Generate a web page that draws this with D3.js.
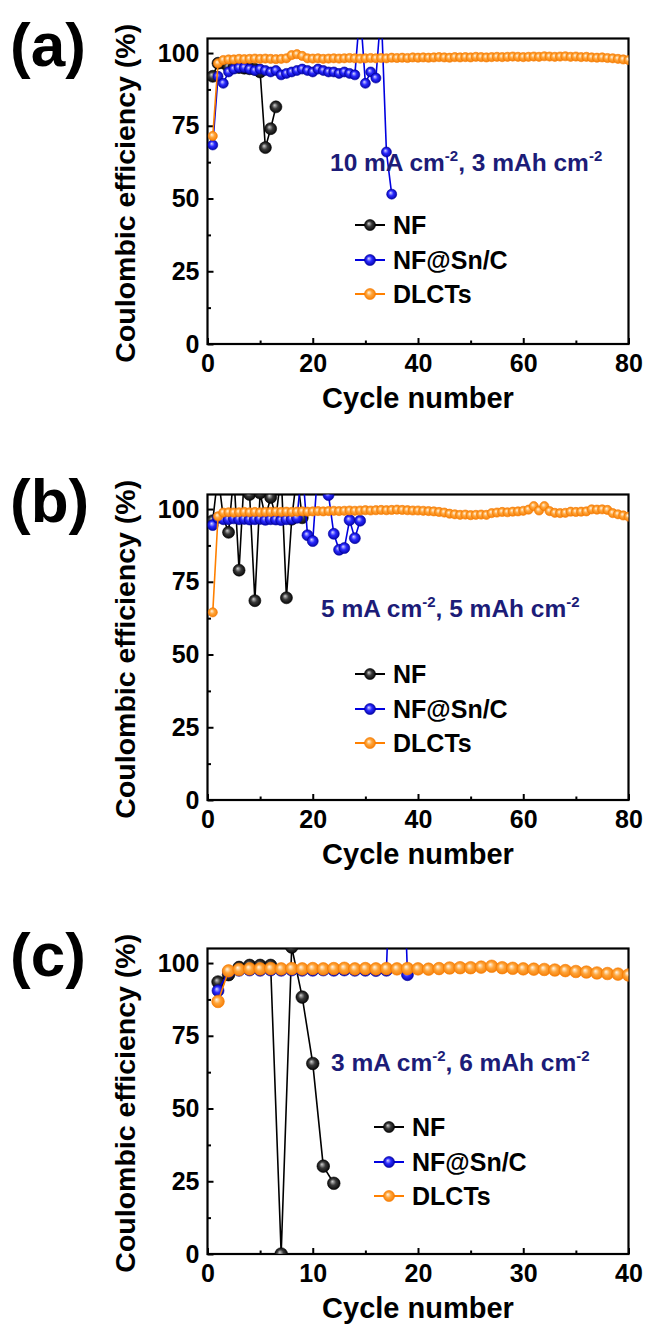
<!DOCTYPE html>
<html><head><meta charset="utf-8">
<script src="https://cdn.jsdelivr.net/npm/d3@7"></script>
<style>body{margin:0;background:#fff}svg{display:block}</style>
</head><body>
<svg id="c" width="649" height="1327"></svg>
<script>
// ---------- data (cycle = index + 1) ----------
const seriesNames = ["NF", "NF@Sn/C", "DLCTs"];
const yTickLabels = [0, 25, 50, 75, 100];

// Panel (a): 10 mA cm-2, 3 mAh cm-2
const nfA = [92.0, 96.5, 96.6, 95.2, 95.0, 95.0, 94.8, 94.6, 94.4, 93.5, 67.5, 74.0, 81.5];
const snA = [68.4, 92.0, 89.6, 93.5, 94.5, 95.0, 95.0, 94.5, 94.0, 94.5, 94.0, 93.5, 94.0, 92.5, 93.0,
             93.5, 94.0, 94.5, 94.0, 93.5, 94.5, 94.0, 93.5, 93.5, 93.0, 93.5, 93.0, 92.5, 115, 89.6,
             93.5, 91.4, 115, 66.0, 51.5];
const dlA = [71.5, 96.5, 97.6, 97.8, 97.8, 98.0, 97.9, 98.0, 98.1, 98.0, 98.1, 98.0, 97.9, 98.0, 98.2,
             99.3, 99.6, 99.0, 98.2, 98.1, 98.2, 98.0, 98.1, 98.2, 98.1, 98.2, 98.3, 98.2, 98.1, 98.2,
             98.3, 98.2, 98.3, 98.2, 98.4, 98.3, 98.4, 98.3, 98.5, 98.4, 98.5, 98.4, 98.5, 98.6, 98.5,
             98.4, 98.6, 98.5, 98.6, 98.5, 98.7, 98.6, 98.5, 98.6, 98.7, 98.6, 98.7, 98.8, 98.7, 98.6,
             98.7, 98.8, 98.7, 98.9, 98.8, 98.7, 98.8, 98.9, 98.7, 98.8, 98.6, 98.7, 98.5, 98.4, 98.5,
             98.3, 98.2, 98.0, 97.8, 97.6];

// Panel (b): 5 mA cm-2, 5 mAh cm-2
const nfB = [96.0, 112, 97.0, 92.0, 112, 79.0, 112, 105.0, 68.5, 105.5, 97.0, 104.0, 97.0, 112, 69.5,
             96.5, 112, 97.0];
const snB = [94.5, 97.0, 96.5, 96.5, 96.8, 96.5, 96.6, 96.4, 96.5, 96.6, 96.3, 96.5, 96.4, 96.2, 96.5,
             96.6, 97.0, 115, 91.0, 89.0, 115, 115, 104.8, 91.5, 86.0, 86.6, 96.2, 90.0, 96.0];
const dlB = [64.5, 97.5, 98.8, 98.9, 98.8, 98.9, 99.0, 98.9, 99.0, 98.9, 99.0, 99.0, 99.1, 99.0, 99.1,
             99.0, 99.1, 99.2, 99.1, 99.2, 99.3, 99.2, 99.3, 99.4, 99.3, 99.4, 99.5, 99.4, 99.5, 99.6,
             99.5, 99.6, 99.7, 99.6, 99.7, 99.8, 99.7, 99.6, 99.5, 99.5, 99.4, 99.3, 99.2, 99.0, 98.8,
             98.4, 98.2, 98.0, 98.1, 97.9, 98.0, 98.1, 98.0, 98.6, 98.8, 99.0, 98.9, 99.1, 99.2, 99.4,
             99.8, 101.0, 99.5, 101.0, 99.3, 98.7, 98.6, 98.7, 99.1, 99.0, 99.1, 99.2, 99.9, 99.8, 99.9,
             99.7, 98.6, 98.2, 97.8, 97.4];

// Panel (c): 3 mA cm-2, 6 mAh cm-2
const nfC = [93.5, 96.0, 98.5, 99.2, 99.2, 99.2, 0.0, 105.5, 88.3, 65.5, 30.2, 24.3];
const snC = [90.5, 97.0, 97.5, 97.6, 97.5, 97.6, 97.5, 97.6, 97.5, 97.5, 97.6, 97.5, 97.6, 97.5, 97.5,
             97.4, 97.5, 200, 96.0];
const dlC = [86.8, 97.3, 97.8, 98.0, 98.0, 98.1, 98.0, 98.1, 98.0, 98.1, 98.0, 98.1, 98.2, 98.0, 98.1,
             98.0, 98.1, 98.0, 98.1, 98.0, 97.9, 98.1, 98.3, 98.4, 98.4, 98.6, 98.9, 98.4, 98.2, 98.0,
             97.9, 97.8, 97.6, 97.4, 97.1, 96.9, 96.6, 96.4, 96.2, 95.9];

const xTicksAB = [0, 20, 40, 60, 80];
const xTicksC = [0, 10, 20, 30, 40];
const notesCurrent = ["10", "5", "3"];
const notesCapacity = ["3", "5", "6"];
const panelLabels = ["(a)", "(b)", "(c)"];

// ---------- drawing ----------
const svg = d3.select("#c");
const FONT = "'Liberation Sans', Arial, Helvetica, sans-serif";
const colors = {NF: ["#000000", "#cfcfcf", "#3a3a3a", "#000000"],
                "NF@Sn/C": ["#0000e0", "#d8d8ff", "#2a2aff", "#0000a0"],
                DLCTs: ["#ff8000", "#fff6e8", "#ffa53a", "#f57a00"]};
const defs = svg.append("defs");
const gradId = {NF: "gk", "NF@Sn/C": "gb", DLCTs: "go"};
for (const k of seriesNames) {
  const g = defs.append("radialGradient").attr("id", gradId[k]).attr("cx", "50%").attr("cy", "50%")
    .attr("r", "55%").attr("fx", "38%").attr("fy", "35%");
  g.append("stop").attr("offset", "0%").attr("stop-color", colors[k][1]);
  g.append("stop").attr("offset", "45%").attr("stop-color", colors[k][2]);
  g.append("stop").attr("offset", "100%").attr("stop-color", colors[k][3]);
}

const panels = [
  {off: 0, xMax: 80, ticks: xTicksAB, nf: nfA, sn: snA, dl: dlA, noteX: 330, noteY: 171,
   leg: {x: 370, tx: 393, ys: [225, 260, 294]}, r: [6, 5, 4.6]},
  {off: 456, xMax: 80, ticks: xTicksAB, nf: nfB, sn: snB, dl: dlB, noteX: 321, noteY: 617,
   leg: {x: 370, tx: 393, ys: [674, 709, 743]}, r: [6, 5.5, 4.6]},
  {off: 910, xMax: 40, ticks: xTicksC, nf: nfC, sn: snC, dl: dlC, noteX: 331, noteY: 1071,
   leg: {x: 389, tx: 412, ys: [1127, 1162, 1196]}, r: [6.3, 6, 6.3]}
];

const L = 207.5, R = 628.5;

panels.forEach((p, i) => {
  const top = 38.5 + p.off, bottom = 344 + p.off;
  const x = d3.scaleLinear().domain([0, p.xMax]).range([L, R]);
  const y = d3.scaleLinear().domain([0, 105]).range([bottom, top]);
  const g = svg.append("g");

  const cid = "clip" + i;
  defs.append("clipPath").attr("id", cid).append("rect")
    .attr("x", L).attr("y", top).attr("width", R - L).attr("height", bottom - top);

  // axes
  const xAxis = d3.axisBottom(x).tickValues(p.ticks).tickSize(-6).tickPadding(10).tickFormat(d3.format("d"));
  const xMinor = d3.axisBottom(x).tickValues(p.ticks.slice(0, -1).map((t, j) => (t + p.ticks[j + 1]) / 2))
    .tickSize(-3.5).tickFormat("");
  const yAxis = d3.axisLeft(y).tickValues(yTickLabels).tickSize(-6).tickPadding(8).tickFormat(d3.format("d"));
  const yMinor = d3.axisLeft(y).tickValues([12.5, 37.5, 62.5, 87.5]).tickSize(-3.5).tickFormat("");

  const gx = g.append("g").attr("transform", `translate(0,${bottom})`).call(xAxis);
  g.append("g").attr("transform", `translate(0,${bottom})`).call(xMinor);
  const gy = g.append("g").attr("transform", `translate(${L},0)`).call(yAxis);
  g.append("g").attr("transform", `translate(${L},0)`).call(yMinor);
  g.selectAll(".domain").remove();
  g.selectAll(".tick line").attr("stroke", "#000").attr("stroke-width", 2);
  gx.selectAll("text").attr("font-family", FONT).attr("font-weight", "bold").attr("font-size", 25).attr("fill", "#000");
  gy.selectAll("text").attr("font-family", FONT).attr("font-weight", "bold").attr("font-size", 25).attr("fill", "#000");

  // frame
  g.append("rect").attr("x", L).attr("y", top).attr("width", R - L).attr("height", bottom - top)
    .attr("fill", "none").attr("stroke", "#000").attr("stroke-width", 2.2);

  // series
  const plot = g.append("g").attr("clip-path", `url(#${cid})`);
  const sets = [["NF", p.nf, p.r[0]], ["NF@Sn/C", p.sn, p.r[1]], ["DLCTs", p.dl, p.r[2]]];
  const line = d3.line().x((d, j) => x(j + 1)).y(d => y(d));
  sets.forEach(([name, arr, r]) => {
    plot.append("path").datum(arr).attr("d", line).attr("fill", "none")
      .attr("stroke", colors[name][0]).attr("stroke-width", 1.6);
    plot.selectAll(null).data(arr).enter().append("circle")
      .attr("cx", (d, j) => x(j + 1)).attr("cy", d => y(d)).attr("r", r)
      .attr("fill", `url(#${gradId[name]})`).attr("stroke", colors[name][3]).attr("stroke-width", 0.6);
  });

  // annotation
  const note = g.append("text").attr("x", p.noteX).attr("y", p.noteY).attr("font-family", FONT)
    .attr("font-weight", "bold").attr("font-size", 24.5).attr("fill", "#1c1c78");
  note.append("tspan").text(notesCurrent[i] + " mA cm");
  note.append("tspan").attr("dy", -10).attr("font-size", 15).text("-2");
  note.append("tspan").attr("dy", 10).text(", " + notesCapacity[i] + " mAh cm");
  note.append("tspan").attr("dy", -10).attr("font-size", 15).text("-2");

  // legend
  seriesNames.forEach((name, k) => {
    const ly = p.leg.ys[k];
    g.append("line").attr("x1", p.leg.x - 15).attr("x2", p.leg.x + 15).attr("y1", ly).attr("y2", ly)
      .attr("stroke", colors[name][0]).attr("stroke-width", 2);
    g.append("circle").attr("cx", p.leg.x).attr("cy", ly).attr("r", 5.5)
      .attr("fill", `url(#${gradId[name]})`).attr("stroke", colors[name][3]).attr("stroke-width", 0.6);
    g.append("text").attr("x", p.leg.tx).attr("y", ly + 9).attr("font-family", FONT)
      .attr("font-weight", "bold").attr("font-size", 25).attr("fill", "#000").text(name);
  });

  // axis titles
  g.append("text").attr("x", (L + R) / 2).attr("y", bottom + 64).attr("text-anchor", "middle")
    .attr("font-family", FONT).attr("font-weight", "bold").attr("font-size", 29).text("Cycle number");
  g.append("text").attr("transform", `translate(135,${(top + bottom) / 2 + 2}) rotate(-90)`)
    .attr("text-anchor", "middle").attr("font-family", FONT).attr("font-weight", "bold")
    .attr("font-size", 28.5).text("Coulombic efficiency (%)");

  // panel label
  g.append("text").attr("x", 10).attr("y", 66 + p.off).attr("font-family", FONT).attr("font-weight", "bold")
    .attr("font-size", 62).text(panelLabels[i]);
});
</script>
</body></html>
